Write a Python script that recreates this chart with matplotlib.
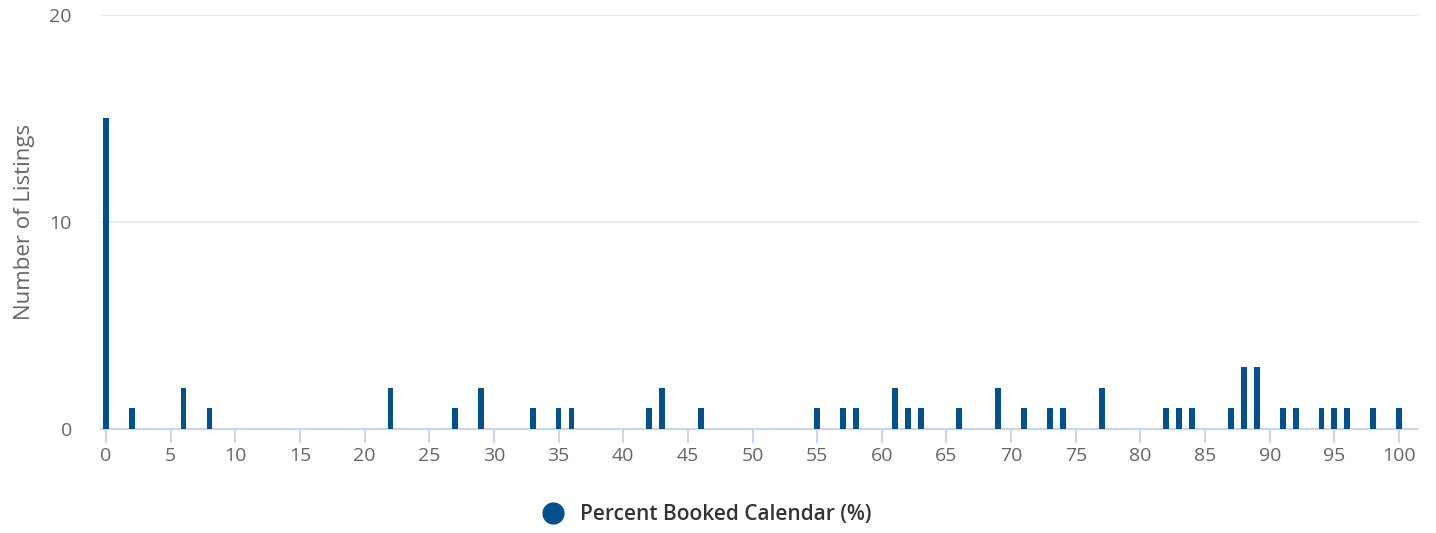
import numpy as np
import matplotlib.pyplot as plt
from matplotlib.lines import Line2D

plt.rcParams['font.family'] = ['Open Sans', 'DejaVu Sans']

# percent booked values and how many listings have each
percent = [0, 2, 6, 8, 22, 27, 29, 33, 35, 36, 42, 43, 46, 55, 57, 58, 61, 62, 63,
           66, 69, 71, 73, 74, 77, 82, 83, 84, 87, 88, 89, 91, 92, 94, 95, 96, 98, 100]
listings = [15, 1, 2, 1, 2, 1, 2, 1, 1, 1, 1, 2, 1, 1, 1, 1, 2, 1, 1,
            1, 2, 1, 1, 1, 2, 1, 1, 1, 1, 3, 3, 1, 1, 1, 1, 1, 1, 1]
xticks = list(range(0, 101, 5))
yticks = [0, 10, 20]

bar_color = '#03508f'
axis_color = '#ccd6eb'

fig = plt.figure(figsize=(14.36, 5.33), dpi=100)
ax = fig.add_axes([0.0703, 0.1951, 0.9172, 0.7768])

ax.bar(percent, listings, width=0.45, color=bar_color, zorder=3)

ax.set_xlim(-0.39, 101.47)
ax.set_ylim(0, 20)
ax.set_xticks(xticks)
ax.set_yticks(yticks)
ax.grid(axis='y', color='#e6e6e6', linewidth=1.2, zorder=0)

for s in ['top', 'right', 'left']:
    ax.spines[s].set_visible(False)
ax.spines['bottom'].set_color(axis_color)
ax.spines['bottom'].set_linewidth(1.5)

ax.tick_params(axis='x', length=10, width=1.5, color=axis_color,
               labelsize=14, labelcolor='#666666', pad=3)
ax.tick_params(axis='y', length=0, labelsize=14, labelcolor='#666666', pad=21)
ax.set_ylabel('Number of Listings', fontsize=16, color='#666666', labelpad=10)

handle = Line2D([], [], marker='o', linestyle='none', markersize=15,
                markerfacecolor=bar_color, markeredgecolor=bar_color)
fig.legend([handle], ['Percent Booked Calendar (%)'], loc='center',
           bbox_to_anchor=(0.489, 0.034), frameon=False, handletextpad=0.3,
           prop={'size': 15, 'weight': 'semibold'}, labelcolor='#333333')

fig.savefig('out.png', dpi=100)
